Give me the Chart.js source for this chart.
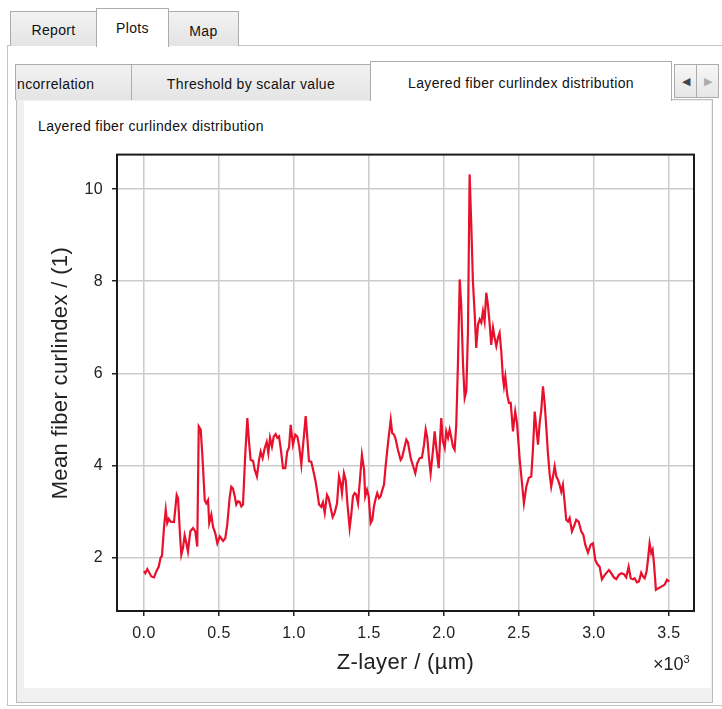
<!DOCTYPE html>
<html>
<head>
<meta charset="utf-8">
<script src="https://cdn.jsdelivr.net/npm/chart.js@4.4.1/dist/chart.umd.min.js"></script>
<style>
  body { margin: 0; width: 722px; height: 709px; background: #ffffff; position: relative; overflow: hidden;
         font-family: "Liberation Sans", Arial, sans-serif; font-size: 14px; color: #111; letter-spacing: 0.35px; }
  .box { position: absolute; box-sizing: border-box; }
  .tab { position: absolute; box-sizing: border-box; border: 1px solid #acacac; border-bottom: none;
         background: linear-gradient(#f2f2f2, #e4e4e4); text-align: center; white-space: nowrap; overflow: hidden; }
  .tab.sel { background: #ffffff; z-index: 2; }
  .arrow { position: absolute; box-sizing: border-box; border: 1px solid #acacac; background: linear-gradient(#f7f7f7, #e6e6e6);
           font-size: 11px; text-align: center; line-height: 32px; letter-spacing: 0; }
  #chartBox { position: absolute; left: 30px; top: 136px; line-height: 0; }
  #expo { position: absolute; left: 653px; top: 653px; font-size: 18px; color: #222; letter-spacing: 0; }
  #expo sup { font-size: 11px; }
</style>
</head>
<body>
<!-- top tab bar -->
<div class="box" style="left:7px; top:45px; width:730px; height:661px; border:1px solid #c3c3c3; background:#ffffff;"></div>
<div class="tab" style="left:10px; top:11px; width:87px; height:35px; line-height:36px;">Report</div>
<div class="tab sel" style="left:96px; top:8px; width:73px; height:39px; line-height:38px;">Plots</div>
<div class="tab" style="left:168px; top:11px; width:71px; height:35px; line-height:38px;">Map</div>

<!-- inner panel -->
<div class="box" style="left:16px; top:99px; width:697px; height:604px; border:1px solid #bcbcbc; background:#f0f0f0;"></div>
<div class="box" style="left:24px; top:101px; width:687px; height:587px; background:#ffffff;"></div>

<!-- inner tabs -->
<div class="tab" style="left:15px; top:64px; width:117px; height:36px; line-height:38px; text-align:left;"><span style="margin-left:1px;">ncorrelation</span></div>
<div class="tab" style="left:131px; top:64px; width:240px; height:36px; line-height:38px;">Threshold by scalar value</div>
<div class="tab sel" style="left:370px; top:61px; width:302px; height:40px; line-height:42px;">Layered fiber curlindex distribution</div>
<div class="arrow" style="left:674px; top:64px; width:23px; height:34px; color:#444;">&#9664;</div>
<div class="arrow" style="left:696px; top:64px; width:23px; height:34px; color:#aaa;">&#9654;</div>

<div class="box" style="left:38px; top:118px;">Layered fiber curlindex distribution</div>

<div id="chartBox"><canvas id="curlChart" width="680" height="554" style="width:680px;height:554px;"></canvas></div>
<div id="expo">×10<sup>3</sup></div>

<script>
// Z-layer positions (µm) and mean fiber curl index
const zLayer = [
  0, 9, 22, 49, 67, 82, 98, 111, 120, 133, 145, 155, 165, 178, 200, 218, 227, 240, 249, 260,
  271, 282, 293, 309, 327, 342, 355, 365, 378, 389, 405, 415, 427, 435, 449, 460, 475, 489, 505, 527,
  542, 555, 571, 582, 593, 605, 615, 627, 638, 649, 660, 675, 689, 700, 711, 727, 738, 753, 767, 778,
  791, 805, 818, 829, 840, 853, 865, 878, 889, 900, 911, 927, 942, 955, 967, 978, 993, 1009, 1022, 1035,
  1049, 1065, 1078, 1089, 1100, 1115, 1127, 1142, 1155, 1167, 1182, 1193, 1205, 1220, 1231, 1245, 1258, 1271, 1287, 1300,
  1311, 1320, 1333, 1345, 1355, 1371, 1382, 1393, 1405, 1415, 1427, 1438, 1453, 1467, 1475, 1487, 1498, 1511, 1522, 1533,
  1545, 1555, 1567, 1578, 1589, 1600, 1611, 1627, 1645, 1655, 1667, 1678, 1693, 1711, 1720, 1733, 1749, 1760, 1778, 1793,
  1809, 1822, 1838, 1853, 1867, 1878, 1889, 1900, 1911, 1927, 1938, 1949, 1965, 1975, 1982, 1993, 2005, 2015, 2027, 2038,
  2049, 2060, 2071, 2082, 2093, 2105, 2115, 2127, 2138, 2149, 2160, 2171, 2182, 2193, 2205, 2215, 2227, 2238, 2249, 2260,
  2271, 2282, 2293, 2305, 2315, 2327, 2338, 2349, 2360, 2371, 2382, 2393, 2400, 2409, 2422, 2433, 2445, 2460, 2475, 2487,
  2505, 2520, 2533, 2549, 2565, 2582, 2593, 2605, 2615, 2627, 2638, 2649, 2660, 2671, 2682, 2693, 2705, 2715, 2727, 2738,
  2749, 2760, 2771, 2782, 2793, 2805, 2815, 2827, 2838, 2853, 2867, 2882, 2898, 2915, 2929, 2942, 2960, 2978, 2993, 3009,
  3022, 3038, 3053, 3071, 3089, 3100, 3115, 3133, 3149, 3165, 3182, 3200, 3215, 3231, 3245, 3260, 3271, 3287, 3300, 3315,
  3327, 3338, 3351, 3360, 3371, 3382, 3391, 3400, 3413, 3427, 3449, 3471, 3487, 3502
];
const curlIndex = [
  1.71, 1.66, 1.75, 1.59, 1.57, 1.70, 1.80, 2.00, 2.04, 2.64, 3.04, 2.75, 2.84, 2.78, 2.77, 3.36, 3.29, 2.49, 2.06, 2.21,
  2.48, 2.32, 2.13, 2.57, 2.64, 2.57, 2.24, 4.85, 4.78, 4.23, 3.25, 3.18, 3.25, 2.75, 2.93, 2.67, 2.53, 2.31, 2.46, 2.36,
  2.42, 2.71, 3.30, 3.54, 3.50, 3.33, 3.15, 3.22, 3.21, 3.11, 3.15, 4.23, 5.03, 4.52, 4.12, 4.10, 3.91, 3.76, 4.12, 4.30,
  4.16, 4.38, 4.51, 4.27, 4.60, 4.41, 4.63, 4.68, 4.60, 4.63, 4.38, 3.94, 3.94, 4.30, 4.39, 4.88, 4.45, 4.67, 4.63, 4.41,
  4.02, 4.60, 5.07, 4.60, 4.09, 4.08, 3.91, 3.69, 3.43, 3.15, 3.10, 3.20, 2.97, 3.36, 3.29, 3.07, 2.88, 2.97, 3.18, 3.76,
  3.62, 3.40, 3.83, 3.68, 3.22, 2.64, 2.93, 3.33, 3.40, 3.37, 3.18, 3.62, 4.23, 3.91, 3.33, 3.47, 3.33, 2.75, 2.82, 3.11,
  3.29, 3.40, 3.29, 3.33, 3.47, 3.58, 3.98, 4.49, 4.99, 4.70, 4.67, 4.57, 4.34, 4.12, 4.16, 4.34, 4.56, 4.50, 4.16, 4.00,
  3.83, 4.05, 4.16, 4.17, 4.45, 4.78, 4.60, 4.16, 3.83, 4.34, 4.74, 4.38, 3.94, 4.63, 5.03, 4.52, 4.38, 4.74, 4.60, 4.78,
  4.60, 4.41, 4.34, 4.88, 6.19, 8.04, 7.49, 6.19, 5.47, 5.62, 6.91, 10.32, 9.23, 8.00, 7.28, 6.55, 7.06, 7.17, 7.10, 7.35,
  7.13, 7.75, 7.49, 7.06, 6.62, 6.99, 6.77, 6.59, 6.77, 6.88, 6.48, 5.90, 5.72, 5.93, 5.53, 5.36, 5.36, 4.74, 5.17, 4.92,
  4.12, 3.62, 3.18, 3.54, 3.73, 3.76, 4.34, 5.17, 4.84, 4.45, 4.92, 5.21, 5.72, 5.36, 4.84, 4.27, 3.80, 3.54, 3.76, 3.98,
  3.76, 3.69, 3.58, 3.43, 3.58, 3.18, 2.82, 2.78, 2.86, 2.57, 2.68, 2.82, 2.78, 2.57, 2.50, 2.28, 2.11, 2.28, 2.31, 1.95,
  1.86, 1.80, 1.53, 1.62, 1.69, 1.73, 1.66, 1.57, 1.53, 1.62, 1.66, 1.64, 1.57, 1.80, 1.55, 1.53, 1.55, 1.46, 1.48, 1.67,
  1.59, 1.55, 1.70, 1.95, 2.31, 2.10, 2.17, 1.88, 1.30, 1.33, 1.37, 1.41, 1.52, 1.48
];
const xTicks = [0, 500, 1000, 1500, 2000, 2500, 3000, 3500];
const yTicks = [2, 4, 6, 8, 10];

const points = zLayer.map((z, i) => ({ x: z, y: curlIndex[i] }));

// frame around the plot area
const frame = {
  id: 'frame',
  afterDraw(chart) {
    const { ctx, chartArea: a } = chart;
    ctx.save();
    ctx.strokeStyle = '#1a1a1a';
    ctx.lineWidth = 2;
    ctx.strokeRect(a.left, a.top, a.right - a.left, a.bottom - a.top);
    ctx.restore();
  }
};

const tickFont = { family: '"Liberation Sans", Arial, sans-serif', size: 16 };
const titleFont = { family: '"Liberation Sans", Arial, sans-serif', size: 22 };

new Chart(document.getElementById('curlChart'), {
  type: 'line',
  data: {
    datasets: [{
      data: points,
      borderColor: '#e8112d',
      borderWidth: 2.2,
      pointRadius: 0,
      tension: 0,
      fill: false
    }]
  },
  options: {
    responsive: false,
    animation: false,
    devicePixelRatio: 1,
    layout: { padding: { left: 0, top: 0, right: 16, bottom: 0 } },
    plugins: { legend: { display: false }, tooltip: { enabled: false } },
    scales: {
      x: {
        type: 'linear',
        min: -180,
        max: 3667,
        afterBuildTicks: s => { s.ticks = xTicks.map(v => ({ value: v })); },
        afterFit: s => { s.height = 79; },
        ticks: {
          color: '#222',
          font: tickFont,
          padding: 8,
          maxRotation: 0,
          callback: v => (v / 1000).toFixed(1)
        },
        grid: { color: '#cccccc', lineWidth: 1.5, tickColor: '#222', tickLength: 5, tickWidth: 1.5 },
        border: { display: false },
        title: { display: true, text: 'Z-layer / (µm)', color: '#222', font: titleFont, padding: { top: 0, bottom: 14 } }
      },
      y: {
        min: 0.84,
        max: 10.75,
        afterBuildTicks: s => { s.ticks = yTicks.map(v => ({ value: v })); },
        afterFit: s => { s.width = 87; },
        ticks: { color: '#222', font: tickFont, padding: 9, callback: v => String(v) },
        grid: { color: '#cccccc', lineWidth: 1.5, tickColor: '#222', tickLength: 5, tickWidth: 1.5 },
        border: { display: false },
        title: { display: true, text: '   Mean fiber curlindex / (1)', color: '#222', font: titleFont, padding: { top: 18, bottom: 0 } }
      }
    }
  },
  plugins: [frame]
});
</script>
</body>
</html>
